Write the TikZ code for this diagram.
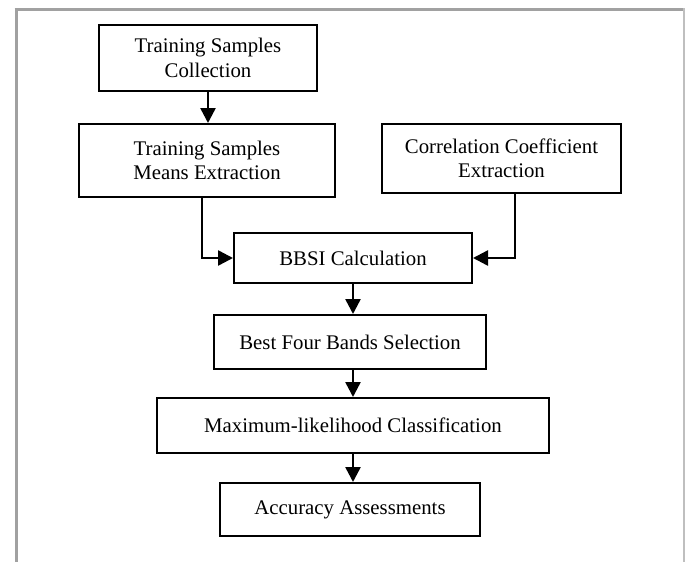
\documentclass[tikz,border=0pt]{standalone}
\usepackage{fontspec}
\setmainfont{Liberation Serif}
\usetikzlibrary{arrows.meta}
\begin{document}
\begin{tikzpicture}[x=1pt,y=-1pt,
  box/.style={draw=black,line width=2pt,rectangle,inner sep=0pt,align=center,
    font=\fontsize{20.8}{24.5}\selectfont},
  arr/.style={line width=2.5pt,-{Triangle[length=15pt,width=15pt]}},
  frame/.style={draw=black!37,line width=3pt},
  frameR/.style={draw=black!25,line width=1.5pt}]
\useasboundingbox (0,0) rectangle (685,562);
\fill[white] (0,0) rectangle (685,562);
% frame
\draw[frame] (14.5,9.5) -- (684,9.5);
\draw[frame] (16,8) -- (16,562);
\draw[frameR] (684,8) -- (684,562);
% nodes
\node[box,minimum width=218pt,minimum height=66pt] (b1) at (208,58) {Training Samples\\Collection};
\node[box,minimum width=256pt,minimum height=73pt] (b2) at (207,160.5) {Training Samples\\Means Extraction};
\node[box,minimum width=239pt,minimum height=69pt] (b3) at (501.5,158.5) {Correlation Coefficient\\Extraction};
\node[box,minimum width=238pt,minimum height=50pt] (b4) at (353,258) {BBSI Calculation};
\node[box,minimum width=272pt,minimum height=54pt] (b5) at (350,342) {Best Four Bands Selection};
\node[box,minimum width=392pt,minimum height=55pt] (b6) at (353,425.5) {Maximum-likelihood Classification};
\node[box,minimum width=260pt,minimum height=53pt] (b7) at (350,509.5) {Accuracy Assessments};
% connectors
\draw[arr] (b1.south) -- (b1.south |- b2.north);
\draw[arr] ([xshift=-5pt]b2.south) |- (b4.west);
\draw[arr] ([xshift=13.5pt]b3.south) |- (b4.east);
\draw[arr] (b4.south) -- (b4.south |- b5.north);
\draw[arr] (b4.south |- b5.south) -- (b4.south |- b6.north);
\draw[arr] (b4.south |- b6.south) -- (b4.south |- b7.north);
\end{tikzpicture}
\end{document}
